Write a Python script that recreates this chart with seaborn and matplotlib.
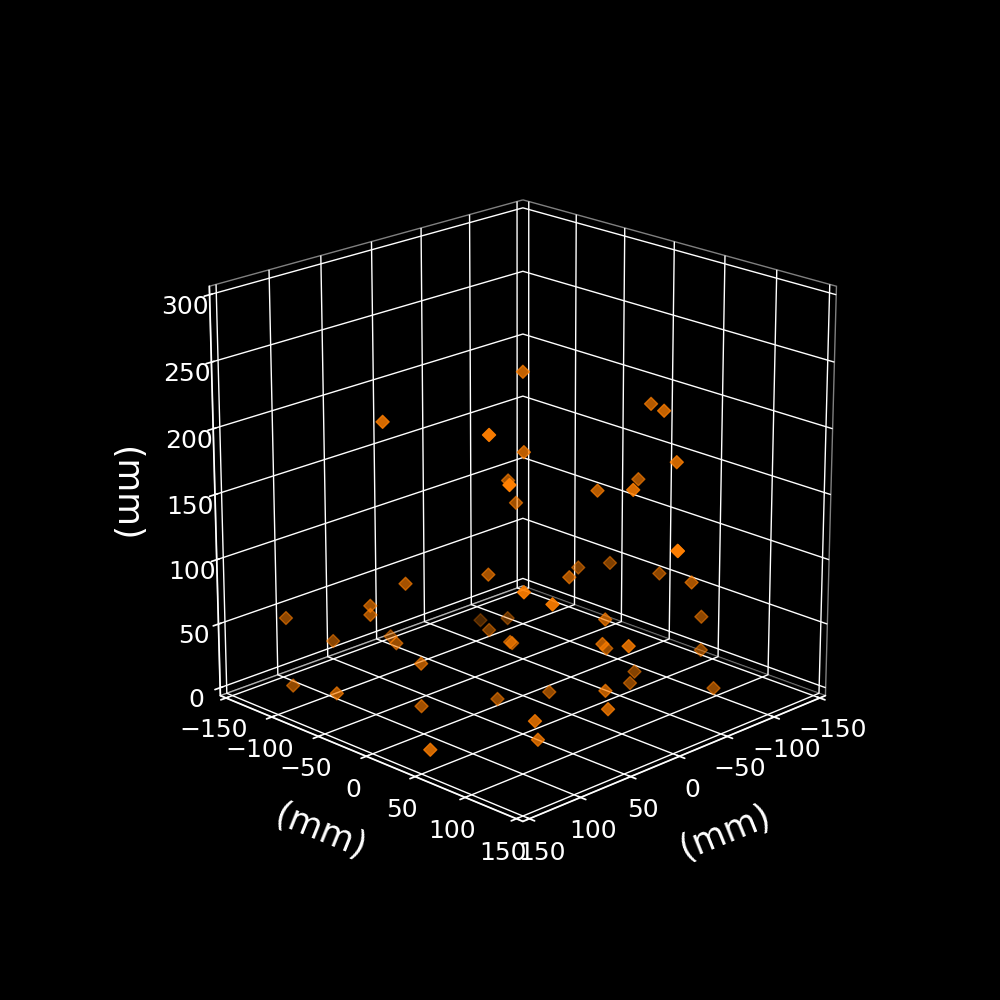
import matplotlib
matplotlib.use("Agg")
import matplotlib.pyplot as plt
import pandas as pd
import seaborn as sns

x_mm = [9, 104, 85, -64, -53, 17, -42, 8, 92, 4, -58, -3, -20, -3, -26, -45, -70, -6, 35, -78, -68, 77, 85, 71, 95, 95, 122, -91, -34, -45, -7, 1, 98, 52, 82, 24, 21, 3, -25, 16, -91, -57, -46, 86, 135, 137, 4, 10, -80, 33, 86, 26, 71, 65, 131]
y_mm = [9, -35, 52, 65, 88, 18, 111, -7, 79, -3, 59, 106, 55, 149, 128, 12, 20, 41, 0, 62, 103, -42, 86, 100, -60, -60, -121, 92, -50, -90, 76, -34, -97, -85, -47, 11, 10, 83, 60, 121, 92, 58, 64, -17, -100, -51, 31, 93, 115, 7, -17, 111, 83, 80, 39]
z_mm = [247, 222, 229, 219, 222, 191, 192, 161, 201, 144, 162, 180, 162, 146, 134, 85, 84, 96, 98, 85, 92, 91, 122, 113, 74, 67, 55, 56, 31, 15, 73, 36, 37, 31, 45, 46, 44, 59, 41, 72, 30, 13, 9, 39, 12, 21, 7, 28, 10, 3, 6, 24, 20, 3, 3]
ticks_xy = [-150, -100, -50, 0, 50, 100, 150]
ticks_z = [0, 50, 100, 150, 200, 250, 300]

df = pd.DataFrame({"x": x_mm, "y": y_mm, "z": z_mm})

sns.set_theme(style="dark", rc={"figure.facecolor": "black", "axes.facecolor": "black"})
plt.style.use("dark_background")

fig = plt.figure(figsize=(10, 10), dpi=100)
ax = fig.add_subplot(111, projection="3d")
ax.view_init(elev=20, azim=45)
ax.set_box_aspect((1, 1, 1), zoom=0.951)
ax.set_xlim(-150, 150, view_margin=1/48)
ax.set_ylim(-150, 150, view_margin=1/48)
ax.set_zlim(0, 300, view_margin=1/48)
ax.set_xticks(ticks_xy)
ax.set_yticks(ticks_xy)
ax.set_zticks(ticks_z)
ax.tick_params(labelsize=18)
for a in (ax.xaxis, ax.yaxis, ax.zaxis):
    a.set_rotate_label(False)
    a.pane.set_facecolor((0, 0, 0, 0))
    a.pane.set_edgecolor((1, 1, 1, 0.5))
ax.set_xlabel("(mm)", fontsize=25, labelpad=20, rotation=22)
ax.set_ylabel("(mm)", fontsize=25, labelpad=20, rotation=-22)
ax.set_zlabel("(mm)", fontsize=25, labelpad=21, rotation=-90)

ax.scatter(df["x"], df["y"], df["z"], marker="D", s=44, color="#ff7f00")
fig.savefig("out.png", dpi=100, facecolor="black")
